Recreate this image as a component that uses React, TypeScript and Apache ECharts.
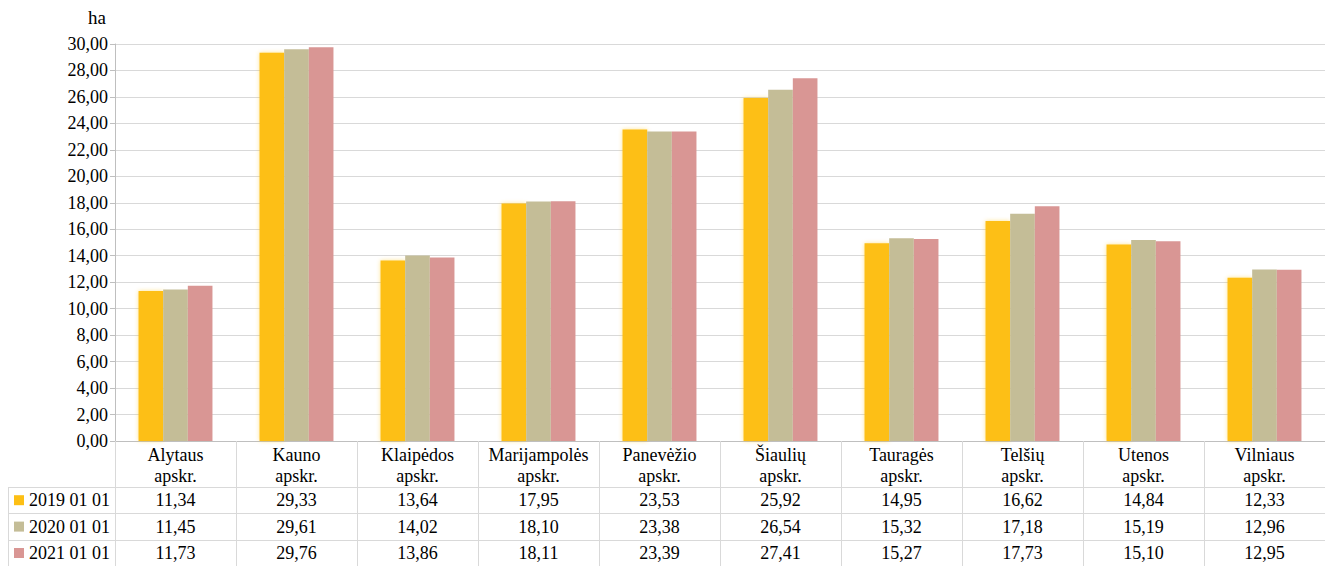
import React, { useEffect, useRef } from "react";
import * as echarts from "echarts";

const categories = [
  "Alytaus apskr.",
  "Kauno apskr.",
  "Klaipėdos apskr.",
  "Marijampolės apskr.",
  "Panevėžio apskr.",
  "Šiaulių apskr.",
  "Tauragės apskr.",
  "Telšių apskr.",
  "Utenos apskr.",
  "Vilniaus apskr.",
];
const seriesNames = ["2019 01 01", "2020 01 01", "2021 01 01"];
const values2019 = [11.34, 29.33, 13.64, 17.95, 23.53, 25.92, 14.95, 16.62, 14.84, 12.33];
const values2020 = [11.45, 29.61, 14.02, 18.1, 23.38, 26.54, 15.32, 17.18, 15.19, 12.96];
const values2021 = [11.73, 29.76, 13.86, 18.11, 23.39, 27.41, 15.27, 17.73, 15.1, 12.95];
const colors = ["#FDBF14", "#C4BD97", "#D99694"];

const W = 1325;
const H = 566;
const FONT = "Liberation Serif";
const GRID_LEFT = 115;
const GRID_TOP = 44;
const GRID_BOTTOM_Y = 441;
const GRID_W = 1211;
const ROW_TOP = 487;
const ROW_H = 26.4;
const LINE = "#d9d9d9";

const fmt = (v: number) => v.toFixed(2).replace(".", ",");

export default function App() {
  const ref = useRef<HTMLDivElement>(null);
  useEffect(() => {
    document.body.style.margin = "0";
    const chart = echarts.init(ref.current!, null, { renderer: "svg" });
    const all = [values2019, values2020, values2021];
    const tableLines: any[] = [];
    for (let i = 0; i < 3; i++) {
      const y = Math.round(ROW_TOP + i * ROW_H) + 0.5;
      tableLines.push({
        type: "line",
        shape: { x1: 8.5, y1: y, x2: W, y2: y },
        style: { stroke: LINE, lineWidth: 1 },
        silent: true,
      });
    }
    tableLines.push({
      type: "line",
      shape: { x1: 8.5, y1: ROW_TOP, x2: 8.5, y2: H },
      style: { stroke: LINE, lineWidth: 1 },
      silent: true,
    });
    chart.setOption({
      animation: false,
      textStyle: { fontFamily: FONT },
      grid: {
        left: GRID_LEFT,
        top: GRID_TOP,
        width: GRID_W,
        height: GRID_BOTTOM_Y - GRID_TOP,
        containLabel: false,
      },
      legend: {
        orient: "vertical",
        left: 14,
        top: ROW_TOP + 3.2,
        padding: 0,
        itemWidth: 10,
        itemHeight: 10,
        itemGap: ROW_H - 20,
        icon: "rect",
        textStyle: {
          fontFamily: FONT,
          fontSize: 18,
          color: "#000",
          lineHeight: 20,
        },
        data: seriesNames,
      },
      xAxis: {
        type: "category",
        data: categories,
        boundaryGap: true,
        axisLine: { lineStyle: { color: "#bfbfbf", width: 1 } },
        axisTick: {
          show: true,
          alignWithLabel: false,
          interval: 0,
          length: H - GRID_BOTTOM_Y,
          lineStyle: { color: LINE, width: 1 },
        },
        axisLabel: {
          interval: 0,
          margin: 3,
          color: "#000",
          fontSize: 18,
          fontFamily: FONT,
          formatter: (value: string, idx: number) => {
            const parts = value.split(" ");
            return [
              `{h|${parts[0]}}`,
              `{h|${parts[1]}}`,
              ...all.map((arr) => `{v|${fmt(arr[idx])}}`),
            ].join("\n");
          },
          rich: {
            h: { fontSize: 18, lineHeight: 21.5, fontFamily: FONT, color: "#000" },
            v: { fontSize: 18, lineHeight: ROW_H, fontFamily: FONT, color: "#000" },
          },
        },
      },
      yAxis: {
        type: "value",
        min: 0,
        max: 30,
        interval: 2,
        axisLine: { show: true, lineStyle: { color: "#bfbfbf", width: 1 } },
        axisTick: { show: true, length: 5, lineStyle: { color: "#bfbfbf" } },
        splitLine: { lineStyle: { color: LINE, width: 1 } },
        axisLabel: {
          margin: 7,
          color: "#000",
          fontSize: 18,
          fontFamily: FONT,
          formatter: (v: number) => fmt(v),
        },
      },
      series: seriesNames.map((name, i) => ({
        name,
        type: "bar",
        data: all[i],
        barGap: "0%",
        barCategoryGap: "38.9%",
        itemStyle:
          i === 0
            ? { color: colors[i], shadowColor: "rgba(253,191,20,0.45)", shadowBlur: 4 }
            : { color: colors[i] },
      })),
      graphic: [
        {
          type: "text",
          left: 88,
          top: 8,
          style: { text: "ha", fontSize: 19, fontFamily: FONT, fill: "#000" },
        },
        ...tableLines,
      ],
    });
    return () => chart.dispose();
  }, []);
  return <div ref={ref} style={{ width: W, height: H }} />;
}
